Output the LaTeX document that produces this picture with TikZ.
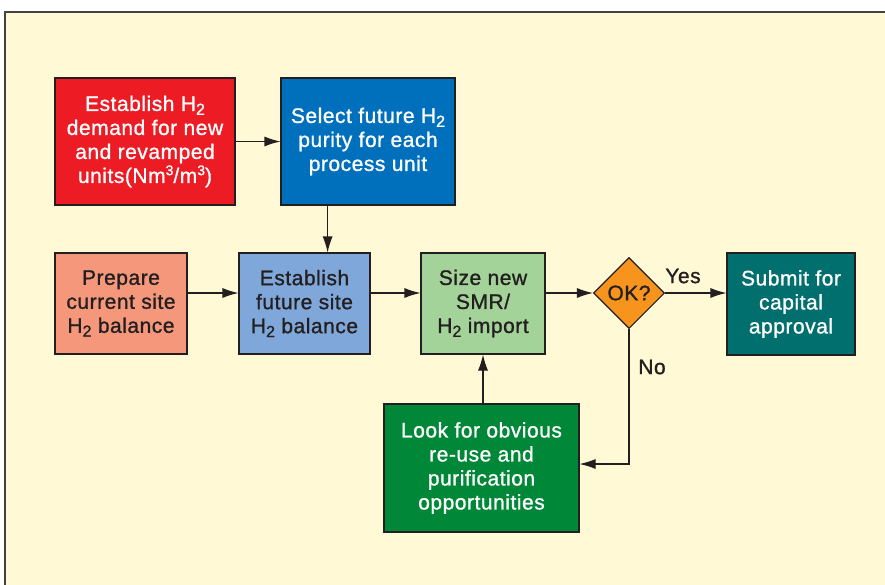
\documentclass[tikz,border=0pt]{standalone}
\usepackage{fontspec}
\setmainfont{Liberation Sans}
\newfontfamily\flowfont[LetterSpace=2.5,FakeBold=1]{Liberation Sans}
\usetikzlibrary{arrows.meta,shapes.geometric,calc}

\definecolor{bgyellow}{HTML}{FFF9D5}
\definecolor{demandred}{HTML}{ED1C24}
\definecolor{purityblue}{HTML}{0070BC}
\definecolor{salmon}{HTML}{F4977B}
\definecolor{futblue}{HTML}{7FA7D9}
\definecolor{smrgreen}{HTML}{A3D398}
\definecolor{okorange}{HTML}{F7941D}
\definecolor{submitteal}{HTML}{006F6E}
\definecolor{reusegreen}{HTML}{008738}
\definecolor{ink}{HTML}{231F20}

\newcommand{\hsub}[1]{\raisebox{-0.35ex}{\fontsize{16}{16}\selectfont #1}}
\newcommand{\hsup}[1]{\raisebox{0.7ex}{\fontsize{14}{14}\selectfont #1}}

\tikzset{
  flowtext/.style={font=\flowfont\fontsize{21}{24}\selectfont},
  box/.style={flowtext,draw=ink,line width=1.1pt,rectangle,align=center,inner sep=2pt},
  darkbox/.style={box,text=white},
  lightbox/.style={box,text=ink},
  flow/.style={draw=ink,line width=1.1pt,-{Latex[length=16pt,width=10pt]}}
}

\begin{document}
\begin{tikzpicture}[x=1pt,y=-1pt]

  \useasboundingbox (0,0) rectangle (885,584);
  \clip (0,0) rectangle (885,584);
  \draw[line width=2.5pt,draw=ink!85,fill=bgyellow] (5,12) rectangle (905,605);

  \node (demand) at (145,141.5) [darkbox,fill=demandred,minimum width=180,minimum height=127]
    {Establish H\hsub{2}\\demand for new\\and revamped\\units(Nm\hsup{3}/m\hsup{3})};
  \node (purity) at (368,141.5) [darkbox,fill=purityblue,minimum width=174,minimum height=127]
    {Select future H\hsub{2}\\purity for each\\process unit};

  \node (current) at (121,303.5) [lightbox,fill=salmon,minimum width=132,minimum height=101]
    {Prepare\\current site\\H\hsub{2} balance};
  \node (future) at (304.5,303.5) [lightbox,fill=futblue,minimum width=131,minimum height=101]
    {Establish\\future site\\H\hsub{2} balance};
  \node (smr) at (483,303.5) [lightbox,fill=smrgreen,minimum width=124,minimum height=101]
    {Size new\\SMR/\\H\hsub{2} import};
  \node (ok) at (629,293) [flowtext,draw=ink,line width=1.1pt,diamond,fill=okorange,text=ink,
    inner sep=0pt,minimum width=71,minimum height=71]{OK?};
  \node (submit) at (791,304) [darkbox,fill=submitteal,minimum width=128,minimum height=102]
    {Submit for\\capital\\approval};

  \node (reuse) at (481.5,468) [darkbox,fill=reusegreen,minimum width=195,minimum height=128]
    {Look for obvious\\re-use and\\purification\\opportunities};

  \coordinate (futin) at ($(future.north)!0.35!(future.north east)$);

  \draw[flow] (demand.east |- purity) -- (purity.west);
  \draw[flow] (purity.south -| futin) -- (futin);
  \draw[flow] (current.east |- ok.west) -- (future.west |- ok.west);
  \draw[flow] (future.east |- ok.west) -- (smr.west |- ok.west);
  \draw[flow] (smr.east |- ok.west) -- (ok.west);
  \draw[flow] (ok.east) -- (submit.west |- ok.east);
  \draw[flow] (ok.south) |- ($(reuse.east)+(0,-4)$);
  \draw[flow] (smr.south |- reuse.north) -- (smr.south);

  \node (yes) at (683,276) [flowtext,text=ink]{Yes};
  \node (no) at (652,367) [flowtext,text=ink]{No};

\end{tikzpicture}
\end{document}
